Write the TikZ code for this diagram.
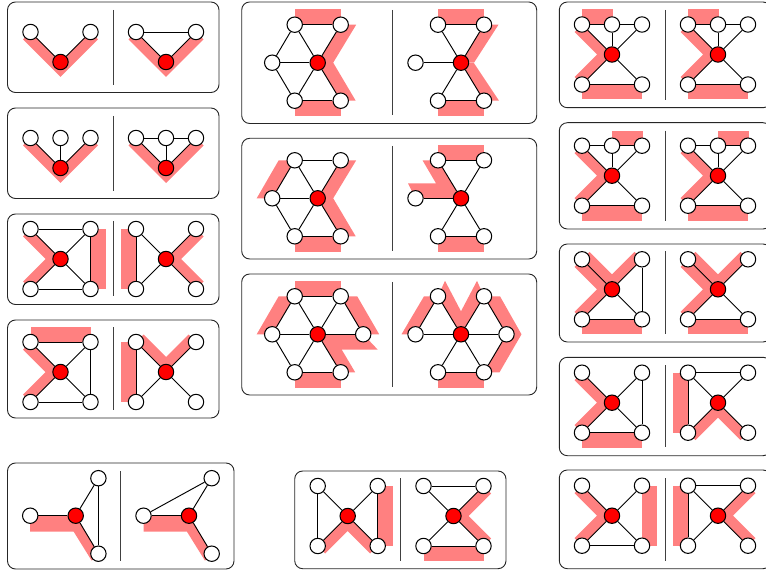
\documentclass[tikz,border=0pt]{standalone}
\definecolor{shadecolor}{RGB}{255,128,128}
\tikzset{
	panel/.style={draw=black!85, line width=0.9pt, rounded corners=8pt},
	divider/.style={draw=black!75, line width=0.9pt},
	edge/.style={draw=black, line width=0.95pt},
	shadepart/.style={fill=shadecolor},
	leafnode/.style={circle, draw=black, line width=1.05pt, fill=white, minimum size=15.4pt, inner sep=0pt},
	hubnode/.style={leafnode, fill=red}
}
% nodes of one graph
\newcommand{\hub}{\node[hubnode] (c) at (0,0) {};}
\newcommand{\leaf}[2]{\node[leafnode] (#1) at (#2) {};}
\newcommand{\sqleaves}{\hub \leaf{tl}{-30,-30} \leaf{tr}{30,-30} \leaf{bl}{-30,30} \leaf{br}{30,30}}
\newcommand{\hexleaves}{\hub \leaf{tl}{-23,-38} \leaf{tr}{23,-38} \leaf{l}{-45.5,0} \leaf{bl}{-23,38} \leaf{br}{23,38}}
\newcommand{\links}[1]{\foreach \a/\b in {#1} \draw[edge] (\a) -- (\b);}
% shading of the square graphs
\newcommand{\sqtop}{\fill[shadepart] (-30,-45) rectangle (30,-30);}
\newcommand{\sqbottom}{\fill[shadepart] (-30,30) rectangle (30,45);}
\newcommand{\sqleft}{\fill[shadepart] (-45,-30) rectangle (-30,30);}
\newcommand{\sqright}{\fill[shadepart] (30,-30) rectangle (45,30);}
\newcommand{\chevleft}{\fill[shadepart] (-30,-30) -- (-37.5,-22.5) -- (-15,0) -- (-37.5,22.5) -- (-30,30) -- (0,0) -- cycle;}
\newcommand{\chevright}{\fill[shadepart] (30,-30) -- (37.5,-22.5) -- (15,0) -- (37.5,22.5) -- (30,30) -- (0,0) -- cycle;}
\newcommand{\chevtop}{\fill[shadepart] (-30,-30) -- (-22.5,-37.5) -- (0,-15) -- (22.5,-37.5) -- (30,-30) -- (0,0) -- cycle;}
\newcommand{\chevbottom}{\fill[shadepart] (-30,30) -- (-22.5,37.5) -- (0,15) -- (22.5,37.5) -- (30,30) -- (0,0) -- cycle;}
\newcommand{\vdown}{\fill[shadepart] (-30,-30) -- (-37.5,-22.5) -- (0,15) -- (37.5,-22.5) -- (30,-30) -- (0,0) -- cycle;}
% shading of the hexagon graphs
\newcommand{\hextop}{\fill[shadepart] (-23,-53.5) rectangle (23,-38);}
\newcommand{\hexbottom}{\fill[shadepart] (-23,38) rectangle (23,53.5);}
\newcommand{\hexchevright}{\fill[shadepart] (23,-38) -- (38.5,-38) -- (15.5,0) -- (38,38) -- (23,38) -- (0,0) -- cycle;}
\newcommand{\hexupleft}{\fill[shadepart] (-23,-38) -- (-39,-38) -- (-61,0) -- (-45.5,0) -- cycle;}
\begin{document}
\begin{tikzpicture}[x=1pt, y=-1pt]
	\useasboundingbox (0,0) rectangle (766,572);
	\clip (0,0) rectangle (766,572);
	% left column
	\draw[panel] (7.5,2) rectangle (219,92.5);
	\draw[divider] (113.5,10) -- (113.5,85);
	\begin{scope}[shift={(60.5,62)}, name prefix=a1-]
		\vdown
		\hub \leaf{tl}{-30,-30} \leaf{tr}{30,-30}
		\links{c/tl, c/tr}
	\end{scope}
	\begin{scope}[shift={(166,62)}, name prefix=a2-]
		\vdown
		\hub \leaf{tl}{-30,-30} \leaf{tr}{30,-30}
		\links{c/tl, c/tr, tl/tr}
	\end{scope}
	\draw[panel] (7.5,108) rectangle (219,198.5);
	\draw[divider] (113.5,116) -- (113.5,191);
	\begin{scope}[shift={(60.5,168)}, name prefix=b1-]
		\vdown
		\hub \leaf{tl}{-30,-30} \leaf{tm}{0,-30} \leaf{tr}{30,-30}
		\links{c/tl, c/tm, c/tr}
	\end{scope}
	\begin{scope}[shift={(166,168)}, name prefix=b2-]
		\vdown
		\hub \leaf{tl}{-30,-30} \leaf{tm}{0,-30} \leaf{tr}{30,-30}
		\links{c/tl, c/tm, c/tr, tl/tm, tm/tr}
	\end{scope}
	\draw[panel] (7.5,214) rectangle (219,304.5);
	\draw[divider] (113.5,221) -- (113.5,296);
	\begin{scope}[shift={(60.5,259)}, name prefix=c1-]
		\chevleft \sqright
		\sqleaves
		\links{c/tl, c/tr, c/bl, c/br, tl/tr, tr/br, bl/br}
	\end{scope}
	\begin{scope}[shift={(166,259)}, name prefix=c2-]
		\sqleft \chevright
		\sqleaves
		\links{c/tl, c/tr, c/bl, c/br, tl/bl}
	\end{scope}
	\draw[panel] (7.5,320) rectangle (219,418);
	\draw[divider] (113.5,327) -- (113.5,410);
	\begin{scope}[shift={(60.5,372)}, name prefix=d1-]
		\sqtop \chevleft
		\sqleaves
		\links{c/tl, c/tr, c/bl, c/br, tl/tr, tr/br, bl/br}
	\end{scope}
	\begin{scope}[shift={(166,372)}, name prefix=d2-]
		\sqleft \chevtop
		\sqleaves
		\links{c/tl, c/tr, c/bl, c/br, tl/bl}
	\end{scope}
	\draw[panel] (7.5,463) rectangle (234,569);
	\draw[divider] (120.7,471) -- (120.7,561);
	\begin{scope}[shift={(75.7,515.7)}, name prefix=e1-]
		\fill[shadepart] (-45.5,0) -- (-45.5,16) -- (-2,16) -- (16,45) -- (23,38) -- (0,0) -- cycle;
		\hub \leaf{l}{-45.5,0} \leaf{tr}{22.7,-37.5} \leaf{br}{22.7,38}
		\links{c/l, c/tr, c/br, tr/br}
	\end{scope}
	\begin{scope}[shift={(189,515.7)}, name prefix=e2-]
		\fill[shadepart] (-45.5,0) -- (-45.5,16) -- (-2,16) -- (16,45) -- (23,38) -- (0,0) -- cycle;
		\hub \leaf{l}{-45.5,0} \leaf{tr}{22.7,-37.5} \leaf{br}{22.7,38}
		\links{c/l, c/tr, c/br, l/tr}
	\end{scope}
	% middle column
	\draw[panel] (241.7,2) rectangle (536.7,123.5);
	\draw[divider] (392.7,10) -- (392.7,115);
	\begin{scope}[shift={(317.7,62.7)}, name prefix=f1-]
		\hextop \hexbottom \hexchevright
		\hexleaves
		\links{c/tl, c/tr, c/l, c/bl, c/br, tl/tr, tl/l, l/bl, bl/br}
	\end{scope}
	\begin{scope}[shift={(461,62.7)}, name prefix=f2-]
		\hextop \hexbottom
		\fill[shadepart] (23,-38) -- (37.5,-38) -- (13,0) -- (0,0) -- cycle;
		\fill[shadepart] (0,0) -- (13,0.5) -- (38,38) -- (23,38) -- cycle;
		\hexleaves
		\links{c/tl, c/tr, c/l, c/bl, c/br, tl/tr, bl/br}
	\end{scope}
	\draw[panel] (241.7,138.3) rectangle (536.7,259);
	\draw[divider] (392.7,146) -- (392.7,251);
	\begin{scope}[shift={(317.7,198.3)}, name prefix=g1-]
		\hexupleft \hexbottom \hexchevright
		\hexleaves
		\links{c/tl, c/tr, c/l, c/bl, c/br, tl/tr, tl/l, l/bl, bl/br}
	\end{scope}
	\begin{scope}[shift={(461,198.3)}, name prefix=g2-]
		\hextop \hexbottom
		\fill[shadepart] (-23,-38) -- (-38.5,-38) -- (-25,-15) -- (-53,-15) -- (-45.5,0) -- (0,0) -- cycle;
		\hexleaves
		\links{c/tl, c/tr, c/l, c/bl, c/br, tl/tr, bl/br}
	\end{scope}
	\draw[panel] (241.7,274) rectangle (536.7,395);
	\draw[divider] (392.7,282) -- (392.7,387);
	\begin{scope}[shift={(317.7,334.3)}, name prefix=h1-]
		\hextop \hexbottom \hexupleft
		\fill[shadepart] (23,-38) -- (39.5,-38) -- (61.5,0) -- (45.5,0) -- cycle;
		\fill[shadepart] (0,0) -- (45.5,0) -- (60,15.3) -- (24,15.3) -- (37.5,38) -- (23,38) -- cycle;
		\hexleaves \leaf{r}{45.5,0}
		\links{c/tl, c/tr, c/l, c/r, c/bl, c/br, tl/tr, tl/l, l/bl, tr/r, bl/br}
	\end{scope}
	\begin{scope}[shift={(461,334.3)}, name prefix=h2-]
		\hexbottom
		\fill[shadepart] (-23,-38) -- (-37,-38) -- (-59.5,0) -- (-45.5,0) -- cycle;
		\fill[shadepart] (-23,-38) -- (-16,-53.5) -- (0,-23) -- (16,-53.5) -- (23,-38) -- (0,0) -- cycle;
		\fill[shadepart] (23,-38) -- (39,-38) -- (60.5,0) -- (38.5,38) -- (23,38) -- (45.5,0) -- cycle;
		\hexleaves \leaf{r}{45.5,0}
		\links{c/tl, c/tr, c/l, c/r, c/bl, c/br, tl/l, tr/r, r/br, bl/br}
	\end{scope}
	\draw[panel] (294.7,471) rectangle (506,568.7);
	\draw[divider] (400.7,478.3) -- (400.7,560.7);
	\begin{scope}[shift={(347.7,516)}, name prefix=i1-]
		\chevbottom \sqright
		\sqleaves
		\links{c/tl, c/tr, c/bl, c/br, tl/bl, tr/br}
	\end{scope}
	\begin{scope}[shift={(453.5,516)}, name prefix=i2-]
		\chevright \sqbottom
		\sqleaves
		\links{c/tl, c/tr, c/bl, c/br, tl/tr, bl/br}
	\end{scope}
	% right column
	\draw[panel] (559.3,2) rectangle (771,107.7);
	\draw[divider] (665,10) -- (665,100);
	\begin{scope}[shift={(612,54.5)}, name prefix=j1-]
		\fill[shadepart] (-30,-45) rectangle (1,-30);
		\chevleft \sqbottom
		\sqleaves \leaf{tm}{0,-30}
		\links{c/tl, c/tm, c/tr, c/bl, c/br, tl/tm, tm/tr, bl/br}
	\end{scope}
	\begin{scope}[shift={(718,54.5)}, name prefix=j2-]
		\fill[shadepart] (-30,-45) rectangle (1,-30);
		\chevleft \sqbottom
		\sqleaves \leaf{tm}{0,-30}
		\links{c/tl, c/tm, c/tr, c/bl, c/br, tl/tm, tm/tr, bl/br}
	\end{scope}
	\draw[panel] (559.3,122.7) rectangle (771,229);
	\draw[divider] (665,130.7) -- (665,220.7);
	\begin{scope}[shift={(612,175.7)}, name prefix=k1-]
		\fill[shadepart] (0,-45) rectangle (31,-30);
		\chevleft \sqbottom
		\sqleaves \leaf{tm}{0,-30}
		\links{c/tl, c/tm, c/tr, c/bl, c/br, tl/tm, tm/tr, bl/br}
	\end{scope}
	\begin{scope}[shift={(718,175.7)}, name prefix=k2-]
		\fill[shadepart] (0,-45) rectangle (31,-30);
		\chevleft \sqbottom
		\sqleaves \leaf{tm}{0,-30}
		\links{c/tl, c/tm, c/tr, c/bl, c/br, tl/tm, tm/tr, bl/br}
	\end{scope}
	\draw[panel] (559.3,244) rectangle (771,342);
	\draw[divider] (665,251.3) -- (665,334.3);
	\begin{scope}[shift={(612,289.3)}, name prefix=m1-]
		\chevleft \chevtop \sqbottom
		\sqleaves
		\links{c/tl, c/tr, c/bl, c/br, tr/br, bl/br}
	\end{scope}
	\begin{scope}[shift={(718,289.3)}, name prefix=m2-]
		\chevleft \chevtop \sqbottom
		\sqleaves
		\links{c/tl, c/tr, c/bl, c/br, bl/br}
	\end{scope}
	\draw[panel] (559.3,357.3) rectangle (771,455.7);
	\draw[divider] (665,365) -- (665,447.3);
	\begin{scope}[shift={(612,402.7)}, name prefix=n1-]
		\chevleft \sqbottom
		\sqleaves
		\links{c/tl, c/tr, c/bl, c/br, tr/br, bl/br}
	\end{scope}
	\begin{scope}[shift={(718,402.7)}, name prefix=n2-]
		\sqleft \chevbottom
		\sqleaves
		\links{c/tl, c/tr, c/bl, c/br, tl/tr, tl/bl}
	\end{scope}
	\draw[panel] (559.3,470) rectangle (771,568.7);
	\draw[divider] (665,478) -- (665,561);
	\begin{scope}[shift={(612,515.7)}, name prefix=o1-]
		\chevleft \sqright
		\sqleaves
		\links{c/tl, c/tr, c/bl, c/br, bl/br}
	\end{scope}
	\begin{scope}[shift={(718,515.7)}, name prefix=o2-]
		\sqleft \chevright
		\sqleaves
		\links{c/tl, c/tr, c/bl, c/br, tl/tr, tl/bl}
	\end{scope}
\end{tikzpicture}
\end{document}
